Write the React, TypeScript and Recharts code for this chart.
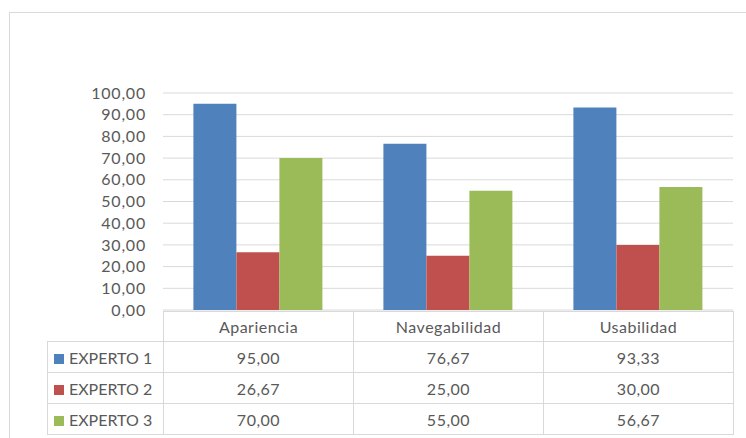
import { BarChart, Bar, XAxis, YAxis, CartesianGrid } from "recharts";

const categories = ["Apariencia", "Navegabilidad", "Usabilidad"];
const seriesNames = ["EXPERTO 1", "EXPERTO 2", "EXPERTO 3"];
const experto1 = [95.0, 76.67, 93.33];
const experto2 = [26.67, 25.0, 30.0];
const experto3 = [70.0, 55.0, 56.67];
const yTicks = [0, 10, 20, 30, 40, 50, 60, 70, 80, 90, 100];

const colors = ["#4f81bd", "#c0504d", "#9bbb59"];
const seriesValues = [experto1, experto2, experto3];
const keys = ["e1", "e2", "e3"];

const data = categories.map((name, i) => ({
  name,
  e1: experto1[i],
  e2: experto2[i],
  e3: experto3[i],
}));

const fmt = (v: number) => v.toFixed(2).replace(".", ",");

const FONT = "Lato, 'Open Sans', sans-serif";
const TEXT = "#595959";
const LINE = "#d9d9d9";

export default function App() {
  const cell: React.CSSProperties = {
    border: `1px solid ${LINE}`,
    textAlign: "center",
    padding: 0,
    color: TEXT,
    fontSize: 16,
    letterSpacing: 0.5,
    fontFamily: FONT,
  };

  return (
    <div
      style={{
        position: "fixed",
        left: 0,
        top: 0,
        width: 746,
        height: 438,
        background: "#fff",
        overflow: "hidden",
      }}
    >
      {/* chart frame, runs off the right and bottom edges */}
      <div
        style={{
          position: "absolute",
          left: 9,
          top: 12,
          width: 800,
          height: 500,
          border: `1px solid ${LINE}`,
        }}
      />

      <div style={{ position: "absolute", left: 0, top: 0 }}>
        <BarChart
          width={746}
          height={320}
          data={data}
          margin={{ top: 93, right: 13, bottom: 10, left: 0 }}
          barCategoryGap="16%"
          barGap={0}
        >
          <CartesianGrid vertical={false} stroke={LINE} />
          <XAxis dataKey="name" hide />
          <YAxis
            width={163}
            domain={[0, 100]}
            ticks={yTicks}
            interval={0}
            tickFormatter={fmt}
            tickLine={false}
            axisLine={false}
            tickSize={0}
            tickMargin={17}
            tick={{ fill: TEXT, fontSize: 16, fontFamily: FONT, letterSpacing: 0.8 }}
          />
          {keys.map((k, i) => (
            <Bar
              key={k}
              dataKey={k}
              name={seriesNames[i]}
              fill={colors[i]}
              isAnimationActive={false}
            />
          ))}
        </BarChart>
      </div>

      {/* data table under the plot */}
      <table
        style={{
          position: "absolute",
          left: 47,
          top: 311,
          width: 687,
          borderCollapse: "collapse",
          tableLayout: "fixed",
        }}
      >
        <colgroup>
          <col style={{ width: 116 }} />
          {categories.map((c) => (
            <col key={c} style={{ width: 190 }} />
          ))}
        </colgroup>
        <tbody>
          <tr style={{ height: 30 }}>
            <td style={{ border: "none" }} />
            {categories.map((c) => (
              <td key={c} style={cell}>
                {c}
              </td>
            ))}
          </tr>
          {seriesNames.map((s, i) => (
            <tr key={s} style={{ height: 31 }}>
              <td
                style={{
                  ...cell,
                  textAlign: "left",
                  paddingLeft: 6,
                  letterSpacing: 0,
                  whiteSpace: "nowrap",
                }}
              >
                <span
                  style={{
                    display: "inline-block",
                    width: 10,
                    height: 10,
                    background: colors[i],
                    marginRight: 5,
                  }}
                />
                {s}
              </td>
              {seriesValues[i].map((v, j) => (
                <td key={j} style={cell}>
                  {fmt(v)}
                </td>
              ))}
            </tr>
          ))}
        </tbody>
      </table>
    </div>
  );
}
